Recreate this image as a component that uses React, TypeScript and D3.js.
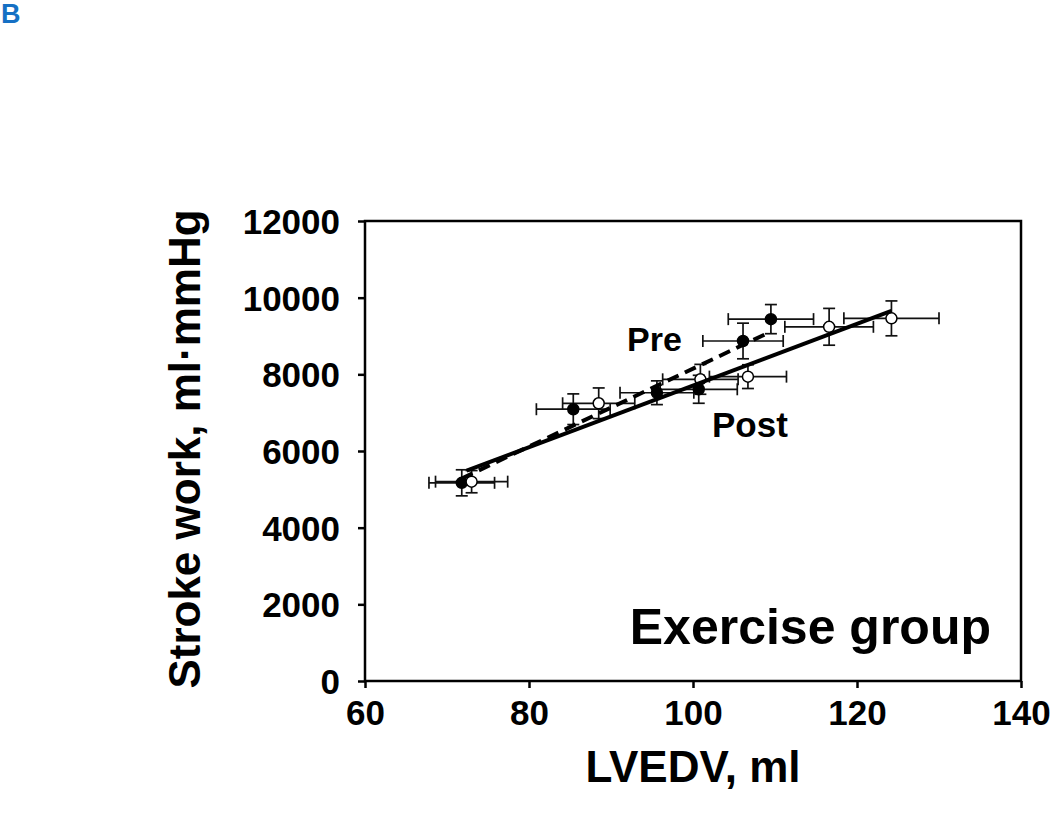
import { useRef, useEffect } from 'react';
import * as d3 from 'd3';

// Pre (filled) and Post (open) points: LVEDV (ml), stroke work (ml·mmHg), SEM in x and y
const preX = [71.8, 85.4, 95.6, 100.7, 106.1, 109.5];
const preY = [5170, 7090, 7520, 7610, 8870, 9440];
const preXErr = [4.0, 4.5, 4.5, 4.7, 4.9, 5.2];
const preYErr = [340, 400, 310, 365, 465, 380];

const postX = [73.0, 88.5, 100.9, 106.7, 116.6, 124.2];
const postY = [5200, 7245, 7870, 7940, 9240, 9460];
const postXErr = [4.4, 4.4, 4.6, 4.7, 5.4, 5.8];
const postYErr = [290, 400, 390, 310, 480, 455];

// linear fits (endpoints)
const preFitX = [71.8, 109.5];
const preFitY = [5283, 9114];
const postFitX = [72.4, 124.2];
const postFitY = [5490, 9653];

const xTicks = [60, 80, 100, 120, 140];
const yTicks = [0, 2000, 4000, 6000, 8000, 10000, 12000];

export default function App() {
  const ref = useRef<SVGSVGElement>(null);

  useEffect(() => {
    const width = 1050;
    const height = 814;
    const left = 365;
    const right = 1021;
    const top = 221;
    const bottom = 681;
    const font = '"Liberation Sans", Arial, sans-serif';

    const svg = d3.select(ref.current);
    svg.selectAll('*').remove();
    svg.attr('width', width).attr('height', height);

    const x = d3.scaleLinear().domain([60, 140]).range([left, right]);
    const y = d3.scaleLinear().domain([0, 12000]).range([bottom, top]);

    // panel letter
    svg
      .append('text')
      .attr('x', 1)
      .attr('y', 23)
      .text('B')
      .style('font-family', font)
      .style('font-weight', 'bold')
      .style('font-size', '27px')
      .attr('fill', '#1570c4');

    // axes
    const xAxis = svg
      .append('g')
      .attr('transform', `translate(0, ${bottom})`)
      .call(d3.axisBottom(x).tickValues(xTicks).tickSize(7).tickFormat(d3.format('d')));
    const yAxis = svg
      .append('g')
      .attr('transform', `translate(${left}, 0)`)
      .call(d3.axisLeft(y).tickValues(yTicks).tickSize(7).tickFormat(d3.format('d')));

    [xAxis, yAxis].forEach((g) => {
      g.select('.domain').remove();
      g.selectAll('line').attr('stroke', '#000').attr('stroke-width', 2.5);
      g.selectAll('text')
        .style('font-family', font)
        .style('font-weight', 'bold')
        .style('font-size', '35px')
        .attr('fill', '#000');
    });
    xAxis.selectAll('text').attr('y', 19).attr('dy', '0.71em');
    yAxis.selectAll('text').attr('x', -25).attr('dy', '0.36em');

    // plot frame
    svg
      .append('rect')
      .attr('x', left)
      .attr('y', top)
      .attr('width', right - left)
      .attr('height', bottom - top)
      .attr('fill', 'none')
      .attr('stroke', '#000')
      .attr('stroke-width', 2.5);

    const series = [
      { xs: preX, ys: preY, xe: preXErr, ye: preYErr, fill: '#000' },
      { xs: postX, ys: postY, xe: postXErr, ye: postYErr, fill: '#fff' },
    ];
    const cap = 6;

    // error bars
    series.forEach((s) => {
      const g = svg.append('g').attr('stroke', '#111').attr('stroke-width', 1.7);
      s.xs.forEach((xv, i) => {
        const cx = x(xv);
        const cy = y(s.ys[i]);
        const x0 = x(xv - s.xe[i]);
        const x1 = x(xv + s.xe[i]);
        const y0 = y(s.ys[i] - s.ye[i]);
        const y1 = y(s.ys[i] + s.ye[i]);
        g.append('line').attr('x1', x0).attr('x2', x1).attr('y1', cy).attr('y2', cy);
        g.append('line').attr('x1', x0).attr('x2', x0).attr('y1', cy - cap).attr('y2', cy + cap);
        g.append('line').attr('x1', x1).attr('x2', x1).attr('y1', cy - cap).attr('y2', cy + cap);
        g.append('line').attr('x1', cx).attr('x2', cx).attr('y1', y0).attr('y2', y1);
        g.append('line').attr('x1', cx - cap).attr('x2', cx + cap).attr('y1', y0).attr('y2', y0);
        g.append('line').attr('x1', cx - cap).attr('x2', cx + cap).attr('y1', y1).attr('y2', y1);
      });
    });

    // markers
    series.forEach((s) => {
      svg
        .append('g')
        .selectAll('circle')
        .data(s.xs.map((xv, i) => [xv, s.ys[i]]))
        .join('circle')
        .attr('cx', (d) => x(d[0]))
        .attr('cy', (d) => y(d[1]))
        .attr('r', 5.5)
        .attr('fill', s.fill)
        .attr('stroke', '#000')
        .attr('stroke-width', 1.5);
    });

    // fit lines
    const fit = (xs: number[], ys: number[]) =>
      d3
        .line<[number, number]>()
        .x((d) => x(d[0]))
        .y((d) => y(d[1]))(xs.map((xv, i) => [xv, ys[i]] as [number, number]));

    svg
      .append('path')
      .attr('d', fit(postFitX, postFitY))
      .attr('fill', 'none')
      .attr('stroke', '#000')
      .attr('stroke-width', 4);
    svg
      .append('path')
      .attr('d', fit(preFitX, preFitY))
      .attr('fill', 'none')
      .attr('stroke', '#000')
      .attr('stroke-width', 4)
      .attr('stroke-dasharray', '12,7');

    // labels
    const label = (tx: number, ty: number, t: string, size: number, anchor = 'start') =>
      svg
        .append('text')
        .attr('x', tx)
        .attr('y', ty)
        .attr('text-anchor', anchor)
        .text(t)
        .style('font-family', font)
        .style('font-weight', 'bold')
        .style('font-size', `${size}px`)
        .attr('fill', '#000');

    label(627, 351, 'Pre', 34);
    label(712, 437, 'Post', 35);
    label(991, 644, 'Exercise group', 50, 'end');
    label((left + right) / 2, 782, 'LVEDV, ml', 44, 'middle');

    svg
      .append('text')
      .attr('transform', `translate(200, ${(top + bottom) / 2 - 2}) rotate(-90)`)
      .attr('text-anchor', 'middle')
      .text('Stroke work, ml·mmHg')
      .style('font-family', font)
      .style('font-weight', 'bold')
      .style('font-size', '44px')
      .attr('fill', '#000');
  }, []);

  return (
    <div style={{ position: 'absolute', left: 0, top: 0 }}>
      <svg ref={ref} style={{ display: 'block' }} />
    </div>
  );
}
